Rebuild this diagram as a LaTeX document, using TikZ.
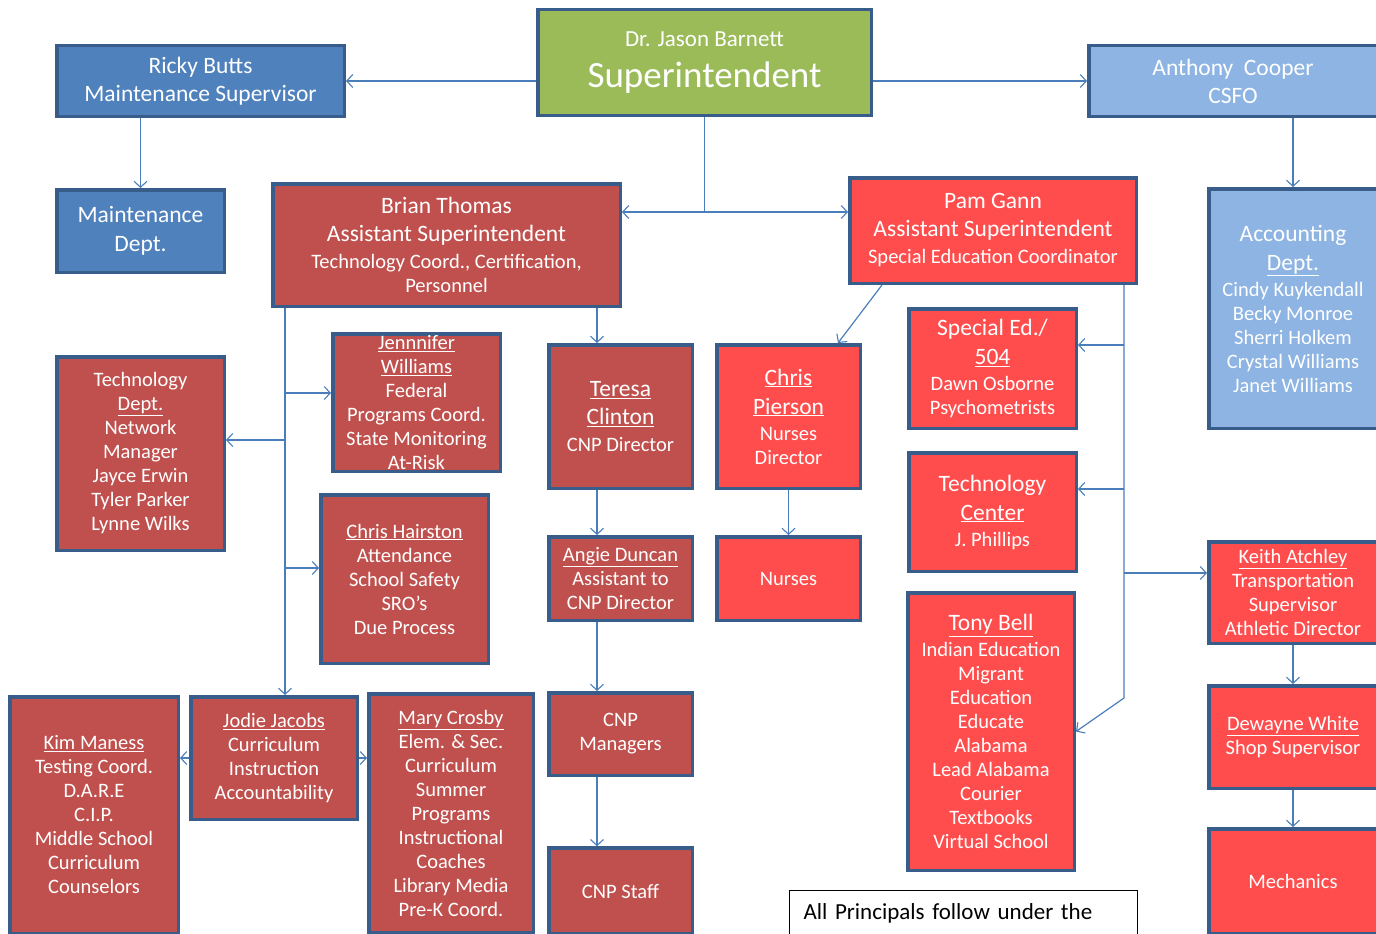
\documentclass[tikz,border=0pt]{standalone}
\usepackage{fontspec}
\setmainfont{Carlito}
\usetikzlibrary{arrows.meta}
\definecolor{darkred}{HTML}{C0504D}
\definecolor{brightred}{HTML}{FF4D4D}
\definecolor{midblue}{HTML}{4F81BD}
\definecolor{lightblue}{HTML}{8DB4E2}
\definecolor{leafgreen}{HTML}{9BBB59}
\definecolor{bordc}{HTML}{385D8A}
\definecolor{linec}{HTML}{4A7EBB}
\newcommand\BigT[1]{{\fontsize{23.5}{24}\selectfont #1}}
\newcommand\ul[1]{\underline{#1}}
\tikzset{
  box/.style={draw=bordc, line width=3.5pt, inner sep=0pt, align=center, text=white,
    font=\fontsize{20.5}{24}\selectfont},
  drk/.style={box, fill=darkred},
  brt/.style={box, fill=brightred},
  blu/.style={box, fill=midblue},
  lblu/.style={box, fill=lightblue},
  conn/.style={draw=linec, line width=1.2pt},
  arr/.style={conn, -{Straight Barb[length=6pt,width=13pt,line width=1.1pt]}},
  notebox/.style={draw=black, line width=1pt, fill=white, text=black, anchor=north west,
    inner xsep=14pt, inner ysep=0pt, text height=29pt, text depth=40pt, text width=320pt, align=left,
    font=\fontsize{23}{24}\selectfont}
}
\begin{document}
\begin{tikzpicture}[x=1pt,y={(0pt,-1pt)}]
\useasboundingbox (0,0) rectangle (1376,934);
\clip (0,0) rectangle (1376,934);
\fill[white] (0,0) rectangle (1376,934);

% top row
\node[box, fill=leafgreen, minimum width=333.5pt, minimum height=105.5pt] (super) at (704.5,62.5)
  {{\fontsize{23}{24}\selectfont Dr. Jason Barnett}\\[14pt]{\fontsize{37}{38}\selectfont Superintendent}};
\node[blu, minimum width=287.5pt, minimum height=70.5pt] (ricky) at (200.5,81)
  {\BigT{Ricky Butts}\\[4pt]\BigT{Maintenance Supervisor}};
\node[lblu, minimum width=288.5pt, minimum height=70.5pt] (cooper) at (1233,81)
  {\BigT{Anthony\ \ Cooper}\\[4pt]\BigT{CSFO}};

\node[blu, minimum width=167.5pt, minimum height=82.5pt] (maint) at (140.5,231)
  {\BigT{Maintenance}\\[5pt]\BigT{Dept.}};
\node[lblu, minimum width=168.5pt, minimum height=239.5pt] (acct) at (1293,308.5)
  {\BigT{Accounting}\\[5pt]\BigT{\ul{Dept.}}\\[2pt]Cindy Kuykendall\\Becky Monroe\\Sherri Holkem\\Crystal Williams\\Janet Williams};

\node[drk, minimum width=347.5pt, minimum height=122.5pt] (brian) at (446.5,245)
  {\BigT{Brian Thomas}\\[4pt]\BigT{Assistant Superintendent}\\[3pt]Technology Coord., Certification,\\Personnel};
\node[brt, minimum width=286.5pt, minimum height=105.5pt] (pam) at (993,230.5)
  {\BigT{Pam Gann}\\[4pt]\BigT{Assistant Superintendent}\\[3pt]Special Education Coordinator};

% left column
\node[drk, minimum width=167.5pt, minimum height=193.5pt] (techdept) at (140.5,453.5)
  {Technology\\\ul{Dept.}\\Network\\Manager\\Jayce Erwin\\Tyler Parker\\Lynne Wilks};
\node[drk, minimum width=167.5pt, minimum height=137.5pt] (jenn) at (416.5,402.5)
  {\ul{Jennnifer}\\\ul{Williams}\\Federal\\Programs Coord.\\State Monitoring\\At-Risk};
\node[drk, minimum width=167.5pt, minimum height=168.5pt] (hair) at (404.5,579)
  {\ul{Chris Hairston}\\Attendance\\School Safety\\SRO’s\\Due Process};

% middle columns
\node[drk, minimum width=143.5pt, minimum height=143.5pt] (teresa) at (620.5,416.5)
  {\BigT{\ul{Teresa}}\\[4pt]\BigT{\ul{Clinton}}\\[3pt]CNP Director};
\node[brt, minimum width=143.5pt, minimum height=143.5pt] (pierson) at (788.5,416.5)
  {\BigT{\ul{Chris}}\\[5pt]\BigT{\ul{Pierson}}\\[2pt]Nurses\\Director};
\node[drk, minimum width=143.5pt, minimum height=83.5pt] (angie) at (620.5,578.5)
  {\ul{Angie Duncan}\\Assistant to\\CNP Director};
\node[brt, minimum width=143.5pt, minimum height=83.5pt] (nurses) at (788.5,578.5) {Nurses};
\node[drk, minimum width=143.5pt, minimum height=82.5pt] (cnpm) at (620.5,734) {CNP\\Managers};
\node[drk, minimum width=143.5pt, minimum height=86pt] (cnps) at (620.5,891) {CNP Staff};

% right-middle column
\node[brt, minimum width=167.5pt, minimum height=119.5pt] (sped) at (992.5,368.5)
  {\BigT{Special Ed./}\\[5pt]\BigT{\ul{504}}\\[2pt]Dawn Osborne\\Psychometrists};
\node[brt, minimum width=167.5pt, minimum height=118.5pt] (techc) at (992.5,512)
  {\BigT{Technology}\\[5pt]\BigT{\ul{Center}}\\[2pt]J. Phillips};
\node[brt, minimum width=166.5pt, minimum height=277.5pt] (tony) at (991,731.5)
  {\BigT{\ul{Tony Bell}}\\[2pt]Indian Education\\Migrant\\Education\\Educate\\Alabama\\Lead Alabama\\Courier\\Textbooks\\Virtual School};

% right column
\node[brt, minimum width=168.5pt, minimum height=101.5pt] (keith) at (1293,592.5)
  {\ul{Keith Atchley}\\Transportation\\Supervisor\\Athletic Director};
\node[brt, minimum width=168.5pt, minimum height=102.5pt] (dewayne) at (1293,737)
  {\ul{Dewayne White}\\Shop Supervisor};
\node[brt, minimum width=168.5pt, minimum height=104.5pt] (mech) at (1293,881) {Mechanics};

% bottom-left row
\node[drk, minimum width=168.5pt, minimum height=236.5pt] (kim) at (94,815)
  {\ul{Kim Maness}\\Testing Coord.\\D.A.R.E\\C.I.P.\\Middle School\\Curriculum\\Counselors};
\node[drk, minimum width=166.5pt, minimum height=122.5pt] (jodie) at (274,758)
  {\ul{Jodie Jacobs}\\Curriculum\\Instruction\\Accountability};
\node[drk, minimum width=164.5pt, minimum height=239pt] (mary) at (451,813.5)
  {\ul{Mary Crosby}\\Elem. \& Sec.\\Curriculum\\Summer\\Programs\\Instructional\\Coaches\\Library Media\\Pre-K Coord.};

% note
\node[notebox] (note) at (789,890) {All Principals follow under the};

% connectors
\draw[arr] (ricky.east -| super.west) -- (ricky.east);
\draw[arr] (cooper.west -| super.east) -- (cooper.west);
\coordinate (sj) at (704.5,212);
\draw[conn] (super.south) -- (sj);
\draw[arr] (sj) -- (sj -| brian.east);
\draw[arr] (sj) -- (sj -| pam.west);
\draw[arr] (maint.north |- ricky.south) -- (maint.north);
\draw[arr] (acct.north |- cooper.south) -- (acct.north);

% Brian trunk
\coordinate (bx) at (285,0);
\coordinate (b1) at (285,440);
\coordinate (b2) at (285,393);
\coordinate (b3) at (285,568);
\draw[arr] (brian.south -| bx) -- (jodie.north -| bx);
\draw[arr] (b1) -- (b1 -| techdept.east);
\draw[arr] (b2) -- (b2 -| jenn.west);
\draw[arr] (b3) -- (b3 -| hair.west);
\coordinate (tx) at (597,0);
\draw[arr] (brian.south -| tx) -- (teresa.north -| tx);
\draw[arr] (teresa.south -| tx) -- (angie.north -| tx);
\draw[arr] (angie.south -| tx) -- (cnpm.north -| tx);
\draw[arr] (cnpm.south -| tx) -- (cnps.north -| tx);
\draw[arr] (jodie.west) -- (jodie.west -| kim.east);
\draw[arr] (jodie.east) -- (jodie.east -| mary.west);

% Pam connectors
\coordinate (pd1) at (882,0);
\coordinate (pd2) at (838,0);
\draw[arr] (pam.south -| pd1) -- (pierson.north -| pd2);
\draw[arr] (pierson.south) -- (nurses.north);
\coordinate (qx) at (1124,0);
\coordinate (q1) at (1124,345);
\coordinate (q2) at (1124,489);
\coordinate (q3) at (1124,573);
\coordinate (q4) at (1124,698);
\draw[arr] (pam.south -| qx) -- (q4) -- (tony.east);
\draw[arr] (q1) -- (q1 -| sped.east);
\draw[arr] (q2) -- (q2 -| techc.east);
\draw[arr] (q3) -- (q3 -| keith.west);
\draw[arr] (keith.south) -- (dewayne.north);
\draw[arr] (dewayne.south) -- (mech.north);
\end{tikzpicture}
\end{document}
